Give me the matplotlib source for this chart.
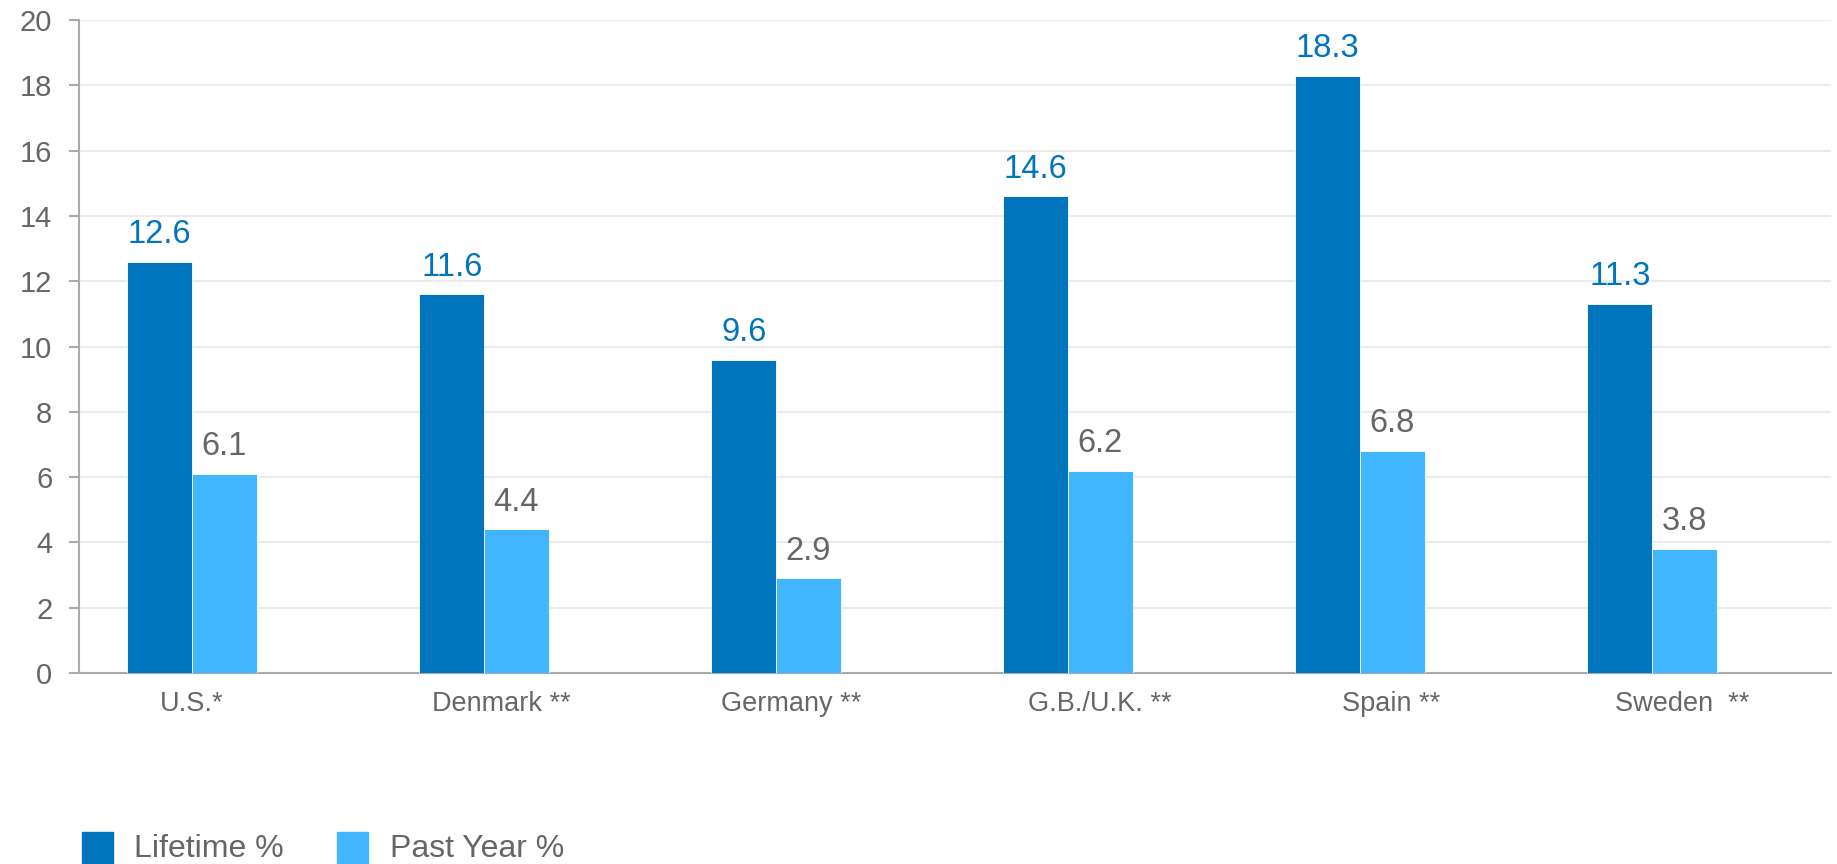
import matplotlib
matplotlib.use("Agg")
import matplotlib.pyplot as plt
from matplotlib.patches import Rectangle
import numpy as np

# ---- data ----
categories = ["U.S.*", "Denmark **", "Germany **", "G.B./U.K. **", "Spain **", "Sweden  **"]
series_names = ["Lifetime %", "Past Year %"]
lifetime = [12.6, 11.6, 9.6, 14.6, 18.3, 11.3]
past_year = [6.1, 4.4, 2.9, 6.2, 6.8, 3.8]
y_ticks = [0, 2, 4, 6, 8, 10, 12, 14, 16, 18, 20]

# ---- layout / style ----
plt.rcParams['font.family'] = ['Liberation Sans', 'DejaVu Sans']
W, H, DPI = 1837, 864, 100
dark = "#0075BE"
light = "#41B5FF"
grey_text = "#666666"
axis_col = "#AAAAAA"
grid_col = "#EBEBEB"
label_shift = [0.0, 0.058, 0.052, 0.11, 0.105, 0.104]
bar_w = 0.221

fig = plt.figure(figsize=(W / DPI, H / DPI), dpi=DPI)
ax = fig.add_axes([79 / W, 1 - 673 / H, (1831 - 79) / W, (673 - 20) / H])

x = np.arange(len(categories))
b1 = ax.bar(x - bar_w / 2, lifetime, bar_w, color=dark, edgecolor="white", linewidth=0.6, zorder=3)
b2 = ax.bar(x + bar_w / 2, past_year, bar_w, color=light, edgecolor="white", linewidth=0.6, zorder=3)

for rect, v in zip(b1, lifetime):
    ax.annotate(f"{v}", (rect.get_x() + rect.get_width() / 2, v), xytext=(0, 13.5),
                textcoords="offset points", ha="center", va="baseline",
                fontsize=23.5, color=dark)
for rect, v in zip(b2, past_year):
    ax.annotate(f"{v}", (rect.get_x() + rect.get_width() / 2, v), xytext=(0, 13.5),
                textcoords="offset points", ha="center", va="baseline",
                fontsize=23.5, color=grey_text)

ax.set_ylim(0, 20)
ax.set_xlim(-0.387, len(categories) - 1 + 0.613)
ax.set_yticks(y_ticks)
ax.set_yticklabels([str(t) for t in y_ticks])
ax.set_xticks(x + np.array(label_shift))
ax.set_xticklabels(categories)

ax.tick_params(axis="y", length=7.2, width=1.5, color=axis_col, pad=12, labelsize=21, labelcolor=grey_text)
ax.tick_params(axis="x", length=0, pad=13, labelsize=19.5, labelcolor=grey_text)

ax.grid(axis="y", color=grid_col, linewidth=1.5, zorder=0)
ax.set_axisbelow(True)
for s in ["top", "right"]:
    ax.spines[s].set_visible(False)
for s in ["left", "bottom"]:
    ax.spines[s].set_color(axis_col)
    ax.spines[s].set_linewidth(1.5)

# legend (manual, bottom-left)
legend_x = [82, 337]
text_x = [134, 390]
for name, col, sx, tx in zip(series_names, [dark, light], legend_x, text_x):
    fig.add_artist(Rectangle((sx / W, 1 - 863 / H), 31 / W, 31 / H,
                             transform=fig.transFigure, color=col))
    fig.text(tx / W, 1 - 857 / H, name, fontsize=23, color=grey_text,
             ha="left", va="baseline")

fig.savefig("out.png", dpi=DPI)
